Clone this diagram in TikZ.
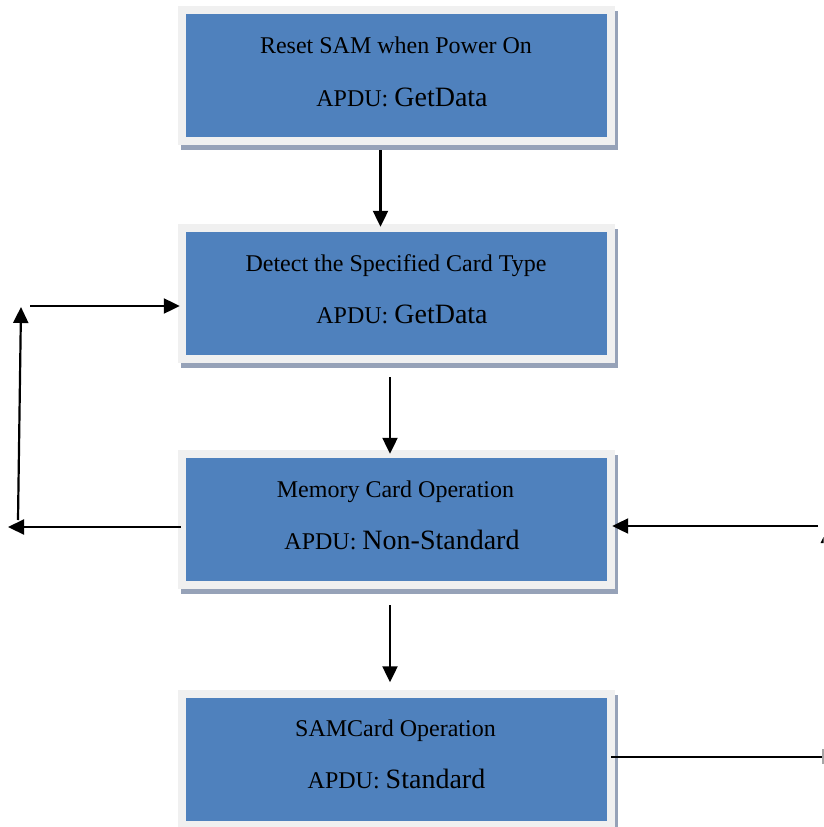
\documentclass[tikz,border=0pt]{standalone}
\usepackage{fontspec}
\setmainfont{Liberation Serif}
\usetikzlibrary{arrows.meta}
\definecolor{boxblue}{RGB}{79,129,189}
\definecolor{framegray}{RGB}{240,240,240}
\definecolor{shadowgray}{RGB}{150,162,184}
\tikzset{
  bluebox/.style={fill=boxblue, minimum width=421pt, minimum height=123pt, inner sep=0pt,
    preaction={draw=shadowgray, line width=16pt, transform canvas={shift={(3pt,-5pt)}}},
    preaction={draw=framegray, line width=16pt}},
  lineone/.style={anchor=base, font=\fontsize{24}{28}\selectfont, inner sep=0pt},
  linetwo/.style={anchor=base, font=\fontsize{24}{28}\selectfont, inner sep=0pt},
  arr/.style={line width=2.2pt, -{Triangle[length=16pt,width=15pt]}},
  plain/.style={line width=2.2pt}
}
\begin{document}
\begin{tikzpicture}[x=1pt,y=-1pt]
\useasboundingbox (0,0) rectangle (824,827);
% boxes
\node[bluebox] (b1) at (396.5,75.5) {};
\node[bluebox] (b2) at (396.5,293.5) {};
\node[bluebox] (b3) at (396.5,519.5) {};
\node[bluebox] (b4) at (396.5,759) {};
% texts
\node[lineone] (t1a) at (396,53) {Reset SAM when Power On};
\node[linetwo] (t1b) at (402,106) {APDU: {\fontsize{28}{32}\selectfont GetData}};
\node[lineone] (t2a) at (396,271) {Detect the Specified Card Type};
\node[linetwo] (t2b) at (402,323.5) {APDU: {\fontsize{28}{32}\selectfont GetData}};
\node[lineone] (t3a) at (395.5,497) {Memory Card Operation};
\node[linetwo] (t3b) at (402,549.5) {APDU: {\fontsize{28}{32}\selectfont Non-Standard}};
\node[lineone] (t4a) at (395.5,736.5) {SAMCard Operation};
\node[linetwo] (t4b) at (396.5,788) {APDU: {\fontsize{28}{32}\selectfont Standard}};
% vertical arrows
\draw[arr] ([shift={(-16pt,-13pt)}]b1.south) -- ([shift={(-16pt,5pt)}]b2.north);
\draw[arr] ([shift={(-6.5pt,-22pt)}]b2.south) -- ([shift={(-6.5pt,4pt)}]b3.north);
\draw[arr] ([shift={(-6.5pt,-24pt)}]b3.south) -- ([shift={(-6.5pt,15pt)}]b4.north);
% left loop
\coordinate (lt) at (8,527);
\coordinate (lvb) at (18,520);
\coordinate (lvt) at (21,307);
\coordinate (lh) at (30,306);
\draw[arr] ([shift={(-5pt,-7.5pt)}]b3.west) -- (lt);
\draw[arr] (lvb) -- (lvt);
\draw[arr] (lh) -- ([shift={(-6pt,-12.5pt)}]b2.west);
% right side
\coordinate (rs) at (818,526);
\draw[arr] (rs) -- ([shift={(5pt,-6.5pt)}]b3.east);
\coordinate (re) at (824,757);
\draw[plain] ([shift={(4pt,2pt)}]b4.east) -- (re);
\coordinate (tk1) at (823,749);
\coordinate (tk2) at (823,764);
\draw[line width=1.5pt, gray!70] (tk1) -- (tk2);
\fill (820.5,543) -- (823.5,537) -- (823.5,543) -- cycle;
\end{tikzpicture}
\end{document}
